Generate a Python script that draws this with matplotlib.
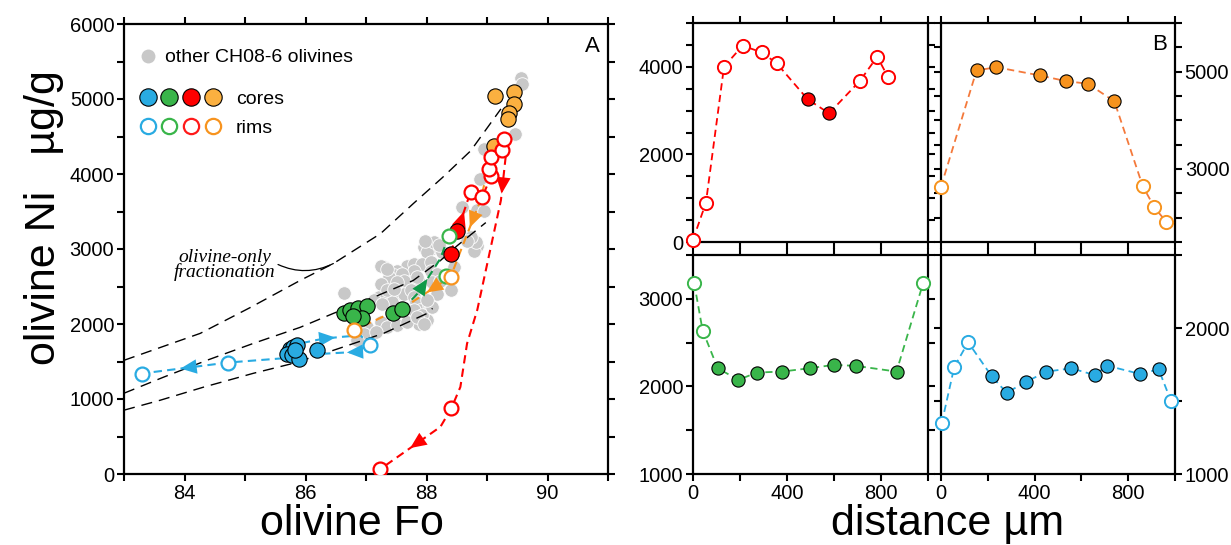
import numpy as np
import matplotlib
matplotlib.use("Agg")
import matplotlib.pyplot as plt
from matplotlib.lines import Line2D
from matplotlib.legend_handler import HandlerTuple

plt.rcParams['font.family'] = ['Liberation Sans', 'DejaVu Sans']

BLUE = '#29abe2'
GREEN = '#39b54a'
GREEN_DARK = '#0f9a48'
RED = '#ff0000'
ORANGE_CORE = '#fbb040'
ORANGE = '#f7931e'
ORANGE_LINE = '#f4793b'
GRAY = '#c8c8c8'

# ---------------- panel A: olivine Fo vs Ni ----------------
other_fo = [88.59, 88.83, 88.95, 88.73, 88.84, 88.78, 87.96, 88.07, 88.18, 88.01,
            88.26, 87.68, 87.79, 87.93, 88.07, 87.79, 87.51, 87.46, 87.60, 87.38,
            87.29, 87.24, 87.74, 87.62, 87.51, 87.87, 88.07, 88.18, 86.63, 87.21,
            87.32, 87.49, 87.62, 87.74, 87.79, 87.43, 87.82, 87.90, 88.04, 87.87,
            87.38, 88.01, 87.13, 87.24, 89.56, 89.58, 89.47, 88.95, 88.89, 88.81,
            88.73, 87.85, 88.07, 87.35, 87.24, 87.35, 87.46, 87.13, 87.27, 87.79,
            87.93, 88.09, 87.02, 87.24, 87.35, 87.51, 87.68, 87.85, 87.96, 86.96,
            86.85, 87.16, 88.45, 88.09, 88.23, 88.18, 88.01, 88.12, 87.98, 88.20,
            88.67, 88.40]
other_ni = [3564, 3520, 3511, 3135, 3046, 2979, 3023, 3002, 3023, 2957,
            2957, 2780, 2802, 2802, 2824, 2713, 2713, 2647, 2669, 2624,
            2757, 2780, 2558, 2580, 2558, 2558, 2713, 2669, 2411, 2358,
            2337, 2403, 2403, 2447, 2358, 2292, 2292, 2181, 2248, 2004,
            1982, 2048, 1893, 1959, 5276, 5196, 4531, 4332, 3933, 3090,
            3156, 2624, 2226, 2736, 2536, 2447, 2469, 2314, 2270, 2181,
            2115, 2226, 1959, 2026, 1959, 1982, 2026, 2092, 2004, 1871,
            1782, 1893, 2757, 2558, 2580, 2403, 2314, 3090, 3110, 3060,
            3112, 2450]

blue_core_fo = [85.75, 85.80, 85.86, 85.69, 85.78, 85.89, 85.83, 86.19]
blue_core_ni = [1672, 1693, 1716, 1606, 1583, 1539, 1650, 1650]
blue_rim_fo = [83.29, 84.72, 87.06]
blue_rim_ni = [1340, 1486, 1716]

green_core_fo = [86.63, 86.74, 86.87, 87.02, 86.94, 86.79, 87.44, 87.60]
green_core_ni = [2142, 2182, 2208, 2235, 2075, 2102, 2142, 2195]
green_rim_fo = [88.33, 88.37]
green_rim_ni = [2634, 3180]

red_core_fo = [88.40, 88.51]
red_core_ni = [2940, 3237]
red_rim_fo = [88.73, 88.92, 89.07, 89.03, 89.06, 89.25, 89.28, 88.41, 87.23]
red_rim_ni = [3765, 3689, 3978, 4067, 4221, 4320, 4466, 874, 62]

orange_core_fo = [89.13, 89.44, 89.44, 89.36, 89.34, 89.11]
orange_core_ni = [5042, 5095, 4935, 4816, 4736, 4377]
orange_rim_fo = [86.80, 88.40]
orange_rim_ni = [1916, 2630]

# olivine-only fractionation curves
frac_upper_fo = [83.00, 84.26, 85.09, 85.91, 86.46, 87.24, 87.78, 88.26, 88.73, 89.23]
frac_upper_ni = [1516, 1875, 2221, 2580, 2806, 3205, 3604, 3950, 4309, 4868]
frac_mid_fo = [83.00, 83.65, 84.37, 85.14, 85.91, 86.46, 87.12, 87.78, 88.23, 88.51, 88.98]
frac_mid_ni = [1077, 1290, 1516, 1742, 1955, 2141, 2354, 2580, 2846, 3046, 3352]
frac_low_fo = [83.00, 83.60, 84.31, 85.14, 85.80, 86.46, 87.29, 88.01, 88.10]
frac_low_ni = [851, 984, 1157, 1343, 1476, 1649, 1875, 2141, 2208]

# traverse paths: (fo, ni, colour, [(segment, position of arrow tip)])
traverses = [
    ([85.94, 86.30, 86.62, 86.91, 87.06], [1746, 1805, 1830, 1849, 1716], BLUE, [(1, 0.6)]),
    ([87.06, 86.80, 86.22], [1716, 1626, 1600], BLUE, [(1, 0.2)]),
    ([85.63, 84.72, 83.29], [1543, 1486, 1340], BLUE, [(1, 0.55)]),
    ([87.60, 87.87, 88.23, 88.37], [2195, 2420, 2873, 3180], GREEN_DARK, [(1, 0.4)]),
    ([89.11, 88.89, 88.60, 88.40, 87.68, 86.80], [4377, 3644, 3050, 2630, 2248, 1916],
     ORANGE, [(1, 0.6), (3, 0.55)]),
    ([88.40, 88.51, 88.73, 88.92, 89.07, 89.03, 89.06, 89.25, 89.28, 89.31, 89.23,
      88.84, 88.67, 88.56, 88.41, 88.23, 87.23],
     [2940, 3237, 3765, 3689, 3978, 4067, 4221, 4320, 4466, 4240, 3650,
      2190, 1738, 1161, 874, 629, 62],
     RED, [(1, 0.5), (9, 0.85), (15, 0.5)]),
]

# ---------------- panel B: traverses across grains ----------------
dist_red = [0, 55, 132, 211, 292, 356, 488, 579, 711, 784, 829]
ni_red = [50, 897, 4002, 4482, 4331, 4080, 3258, 2938, 3683, 4231, 3774]
core_red = [0, 0, 0, 0, 0, 0, 1, 1, 0, 0, 0]

dist_orange = [0, 152, 237, 422, 535, 628, 741, 862, 912, 962]
ni_orange = [2636, 5025, 5092, 4922, 4805, 4752, 4389, 2650, 2212, 1917]
core_orange = [0, 1, 1, 1, 1, 1, 1, 0, 0, 0]

dist_green = [5, 41, 105, 193, 271, 378, 498, 600, 694, 866, 980]
ni_green = [3179, 2638, 2208, 2074, 2158, 2169, 2208, 2246, 2234, 2169, 3186]
core_green = [0, 0, 1, 1, 1, 1, 1, 1, 1, 1, 0]

dist_blue = [3, 57, 116, 216, 280, 365, 450, 557, 656, 710, 851, 930, 983]
ni_blue = [1347, 1735, 1902, 1671, 1557, 1632, 1701, 1724, 1678, 1742, 1685, 1717, 1500]
core_blue = [0, 0, 0, 1, 1, 1, 1, 1, 1, 1, 1, 1, 0]

W, H = 1231, 545
fig = plt.figure(figsize=(W / 100, H / 100), dpi=100)


def px_axes(x0, y0, x1, y1):
    return fig.add_axes([x0 / W, 1 - y1 / H, (x1 - x0) / W, (y1 - y0) / H])


def style_frame(ax):
    for s in ax.spines.values():
        s.set_linewidth(1.6)
    ax.tick_params(which='both', direction='out', top=True, right=True,
                   length=5, width=1.5, labelsize=14.5, pad=2)


# ----- panel A -----
axA = px_axes(124, 24, 608, 474)
style_frame(axA)
axA.set_xlim(83, 91)
axA.set_ylim(0, 6000)
axA.set_xticks(np.arange(83, 92, 1))
axA.set_xticklabels(['' if v % 2 else str(v) for v in range(83, 92)])
axA.set_yticks(np.arange(0, 6001, 500))
axA.set_yticklabels([str(v) if v % 1000 == 0 else '' for v in range(0, 6001, 500)])

axA.scatter(other_fo, other_ni, s=95, c=GRAY, edgecolors='white', linewidths=0.6, zorder=1)

for fo, ni in [(frac_upper_fo, frac_upper_ni), (frac_mid_fo, frac_mid_ni), (frac_low_fo, frac_low_ni)]:
    axA.plot(fo, ni, color='black', lw=1.0, dashes=(8, 5), zorder=2)

axA.annotate('olivine-only\nfractionation', xy=(86.46, 2806), xytext=(84.66, 2790),
             ha='center', va='center', fontsize=14, style='italic', linespacing=0.8,
             family=['Liberation Serif', 'DejaVu Serif'],
             arrowprops=dict(arrowstyle='-', lw=0.9, color='black', relpos=(1.0, 0.55),
                             connectionstyle='arc3,rad=0.25', shrinkA=0, shrinkB=0))

for fo, ni, col, arrows in traverses:
    axA.plot(fo, ni, color=col, lw=1.5, dashes=(4, 2.5), zorder=3)
    for seg, t in arrows:
        x0, y0 = fo[seg], ni[seg]
        x1, y1 = fo[seg + 1], ni[seg + 1]
        tip = (x0 + t * (x1 - x0), y0 + t * (y1 - y0))
        tail = (x0 + (t - 0.05) * (x1 - x0), y0 + (t - 0.05) * (y1 - y0))
        axA.annotate('', xy=tip, xytext=tail, zorder=4,
                     arrowprops=dict(arrowstyle='-|>,head_length=0.9,head_width=0.4',
                                     color=col, lw=0, mutation_scale=13,
                                     shrinkA=0, shrinkB=0))

core_kw = dict(ls='none', marker='o', ms=11, mec='black', mew=0.8, zorder=5)
rim_kw = dict(ls='none', marker='o', ms=10, mfc='white', mew=1.6, zorder=5)
axA.plot(blue_core_fo, blue_core_ni, mfc=BLUE, **core_kw)
axA.plot(green_core_fo, green_core_ni, mfc=GREEN, **core_kw)
axA.plot(red_core_fo, red_core_ni, mfc=RED, **core_kw)
axA.plot(orange_core_fo, orange_core_ni, mfc=ORANGE_CORE, **core_kw)
axA.plot(blue_rim_fo, blue_rim_ni, mec=BLUE, **rim_kw)
axA.plot(green_rim_fo, green_rim_ni, mec=GREEN, **rim_kw)
axA.plot(red_rim_fo, red_rim_ni, mec=RED, **rim_kw)
axA.plot(orange_rim_fo, orange_rim_ni, mec=ORANGE, **rim_kw)

# legend
gray_h = Line2D([], [], ls='none', marker='o', ms=10, mfc=GRAY, mec='none')
leg1 = axA.legend([gray_h], ['other CH08-6 olivines'], loc='upper left',
                  bbox_to_anchor=(0.029, 0.945), frameon=False, fontsize=14,
                  handlelength=1.0, handletextpad=0.4, borderpad=0, borderaxespad=0)
axA.add_artist(leg1)
cores_h = tuple(Line2D([], [], ls='none', marker='o', ms=12.5, mfc=c, mec='black', mew=0.8)
                for c in (BLUE, GREEN, RED, ORANGE_CORE))
rims_h = tuple(Line2D([], [], ls='none', marker='o', ms=11, mfc='white', mec=c, mew=1.6)
               for c in (BLUE, GREEN, '#ff1a1a', ORANGE))
axA.legend([cores_h, rims_h], ['cores', 'rims'], loc='upper left',
           bbox_to_anchor=(0.026, 0.853), frameon=False, fontsize=14,
           handler_map={tuple: HandlerTuple(ndivide=None, pad=0)},
           handlelength=4.5, handletextpad=0.6, labelspacing=0.6,
           borderpad=0, borderaxespad=0)

axA.text(0.967, 0.951, 'A', transform=axA.transAxes, ha='center', va='center', fontsize=16)

# ----- panel B -----
panels = [
    ((693, 23, 928, 242), dist_red, ni_red, core_red, RED, RED, RED, (0, 5000), [0, 2000, 4000], 'left', False),
    ((941, 23, 1175, 242), dist_orange, ni_orange, core_orange, ORANGE_LINE, ORANGE, ORANGE, (1500, 6000), [3000, 5000], 'right', False),
    ((693, 255, 928, 474), dist_green, ni_green, core_green, GREEN, GREEN, GREEN, (1000, 3500), [1000, 2000, 3000], 'left', True),
    ((941, 255, 1175, 474), dist_blue, ni_blue, core_blue, BLUE, BLUE, BLUE, (1000, 2500), [1000, 2000], 'right', True),
]

for box, d, ni, core, lcol, fcol, ecol, ylim, ylab, side, xlab in panels:
    ax = px_axes(*box)
    style_frame(ax)
    ax.set_xlim(0, 1000)
    ax.set_ylim(*ylim)
    ax.set_xticks(np.arange(0, 1001, 200))
    if xlab:
        ax.set_xticklabels(['0', '', '400', '', '800', ''])
    else:
        ax.set_xticklabels([])
    yt = np.arange(ylim[0], ylim[1] + 1, 500)
    ax.set_yticks(yt)
    ax.set_yticklabels([str(v) if v in ylab else '' for v in yt])
    if side == 'right':
        ax.tick_params(labelleft=False, labelright=True)
    ax.plot(d, ni, color=lcol, lw=1.3, dashes=(4, 2.5), zorder=2, clip_on=False)
    d_arr, ni_arr, c_arr = np.array(d), np.array(ni), np.array(core, dtype=bool)
    ax.plot(d_arr[c_arr], ni_arr[c_arr], ls='none', marker='o', ms=9.5, mfc=fcol,
            mec='black', mew=0.8, zorder=4, clip_on=False)
    ax.plot(d_arr[~c_arr], ni_arr[~c_arr], ls='none', marker='o', ms=9.5, mfc='white',
            mec=ecol, mew=1.4, zorder=4, clip_on=False)
    if box[0] == 941 and box[1] == 23:
        ax.text(0.936, 0.9, 'B', transform=ax.transAxes, ha='center', va='center', fontsize=16)

fig.text(352 / W, 1 - 524 / H, 'olivine Fo', ha='center', va='center', fontsize=31)
fig.text(948 / W, 1 - 524 / H, 'distance µm', ha='center', va='center', fontsize=31)
fig.text(44 / W, 1 - 218 / H, 'olivine Ni   µg/g', ha='center', va='center',
         rotation=90, fontsize=31)

fig.savefig('out.png', dpi=100)
